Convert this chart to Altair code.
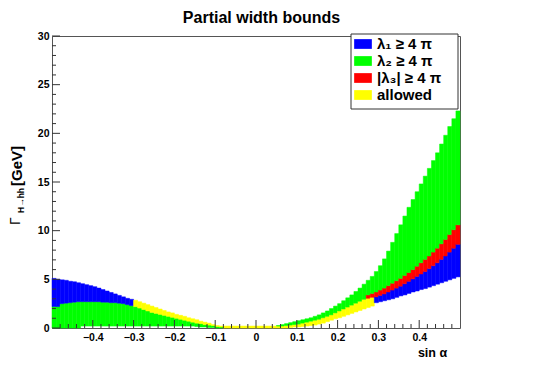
import altair as alt
import pandas as pd

TITLE = "Partial width bounds"
CATS = ["l1", "l2", "l3", "allowed"]
CAT_LABELS = ["λ₁  ≥ 4 π", "λ₂  ≥ 4 π", "|λ₃|  ≥ 4 π", "allowed"]
COLORS = ["#0000ff", "#00ff00", "#ff0000", "#ffff00"]
BIN = 0.01

# left region: bins from -0.50 to -0.08 (42 bins)
LEFT_START = -0.50
LEFT_GREEN_LO = [0, 0, 0, 0, 0, 0, 0,
                 0.2, 0.2, 0.2, 0.2, 0.2, 0.2, 0.2, 0.2, 0.2, 0.2, 0.2, 0.2, 0.2, 0.2,
                 0.2, 0.2, 0.2, 0.2, 0.2, 0.2, 0.2, 0.2, 0.2, 0.2, 0.2, 0.2, 0.2, 0.2,
                 0.15, 0.1, 0.1, 0.05, 0.05, 0, 0]
LEFT_GREEN_HI = [2.2, 2.2, 2.5, 2.55, 2.6, 2.65, 2.7, 2.7, 2.7, 2.7, 2.7, 2.7, 2.65, 2.65,
                 2.6, 2.6, 2.55, 2.5, 2.4, 2.3, 2.2, 2.05, 1.9, 1.75, 1.6, 1.5, 1.4, 1.3,
                 1.2, 1.1, 1.0, 0.9, 0.8, 0.7, 0.6, 0.5, 0.45, 0.35, 0.3, 0.25, 0.15, 0.1]
LEFT_BLUE_HI = [5.1, 5.0, 4.95, 4.9, 4.8, 4.75, 4.65, 4.55, 4.45, 4.35, 4.25, 4.1, 3.95,
                3.8, 3.65, 3.5, 3.35, 3.2, 3.05, 2.95]
LEFT_YELLOW_HI = [2.85, 2.7, 2.55, 2.4, 2.25, 2.1, 1.95, 1.8, 1.65, 1.55, 1.4, 1.3, 1.2,
                  1.05, 0.95, 0.85, 0.7, 0.6, 0.5, 0.35, 0.25, 0.2]

# centre region: bins from -0.08 to 0.05
CENTER_START = -0.08
CENTER_YELLOW_HI = [0.2, 0.2, 0.2, 0.2, 0.2, 0.2, 0.2, 0.2, 0.2, 0.2, 0.2, 0.2, 0.2]

# right region: bins from 0.05 to 0.50 (45 bins)
RIGHT_START = 0.05
RIGHT_YELLOW_LO = [0, 0, 0, 0.05, 0.1, 0.1, 0.15, 0.2, 0.25, 0.3, 0.4, 0.5, 0.65, 0.8,
                   0.95, 1.05, 1.2, 1.35, 1.5, 1.65, 1.8, 1.95, 2.1, 2.25]
RIGHT_YELLOW_HI = [0.2, 0.2, 0.25, 0.3, 0.35, 0.4, 0.5, 0.6, 0.7, 0.8, 0.9, 1.05, 1.2,
                   1.35, 1.55, 1.75, 1.95, 2.15, 2.35, 2.55, 2.75, 2.95, 3.05, 3.15]
RIGHT_BLUE_LO = [2.6, 2.7, 2.8, 2.9, 3.0, 3.15, 3.3, 3.4, 3.55, 3.7, 3.8, 3.95, 4.05,
                 4.2, 4.35, 4.5, 4.65, 4.8, 4.95, 5.1, 5.25]
RIGHT_BLUE_HI = [3.2, 3.35, 3.5, 3.7, 3.9, 4.1, 4.3, 4.55, 4.8, 5.05, 5.3, 5.55, 5.8,
                 6.1, 6.4, 6.7, 7.05, 7.4, 7.8, 8.2, 8.6]
RIGHT_RED_HI = [3.4, 3.55, 3.7, 3.9, 4.1, 4.35, 4.6, 4.85, 5.1, 5.4, 5.7, 6.0, 6.35,
                6.7, 7.05, 7.4, 7.8, 8.2, 8.65, 9.1, 9.6, 10.1, 10.6]
RIGHT_GREEN_HI = [0.25, 0.35, 0.45, 0.55, 0.65, 0.75, 0.85, 0.95, 1.05, 1.2, 1.35, 1.55,
                  1.75, 2.0, 2.25, 2.5, 2.8, 3.1, 3.4, 3.75, 4.1, 4.5, 4.9, 5.3, 5.8,
                  6.4, 7.1, 7.9, 8.8, 9.7, 10.6, 11.5, 12.4, 13.2, 14.0, 14.8, 15.6,
                  16.4, 17.2, 18.0, 18.9, 19.8, 20.7, 21.5, 22.3]

X_TICK_LABELS = [-0.4, -0.3, -0.2, -0.1, 0, 0.1, 0.2, 0.3, 0.4]
Y_TICK_LABELS = [0, 5, 10, 15, 20, 25, 30]

rows = []


def add(x0, lo, hi, cat):
    rows.append({"x0": round(x0, 4), "x1": round(x0 + BIN, 4), "y0": lo, "y1": hi, "cat": cat})


for i in range(len(LEFT_GREEN_HI)):
    x0 = LEFT_START + i * BIN
    add(x0, LEFT_GREEN_LO[i], LEFT_GREEN_HI[i], "l2")
    if i < len(LEFT_BLUE_HI):
        add(x0, LEFT_GREEN_HI[i], LEFT_BLUE_HI[i], "l1")
    else:
        add(x0, LEFT_GREEN_HI[i], LEFT_YELLOW_HI[i - len(LEFT_BLUE_HI)], "allowed")

for j, v in enumerate(CENTER_YELLOW_HI):
    add(CENTER_START + j * BIN, 0, v, "allowed")

n_yel = len(RIGHT_YELLOW_HI)
red_start = len(RIGHT_GREEN_HI) - len(RIGHT_RED_HI)
for k in range(len(RIGHT_GREEN_HI)):
    x0 = RIGHT_START + k * BIN
    if k < n_yel:
        add(x0, RIGHT_YELLOW_LO[k], RIGHT_YELLOW_HI[k], "allowed")
        below = RIGHT_YELLOW_HI[k]
    else:
        add(x0, RIGHT_BLUE_LO[k - n_yel], RIGHT_BLUE_HI[k - n_yel], "l1")
        below = RIGHT_BLUE_HI[k - n_yel]
    if k >= red_start:
        add(x0, below, RIGHT_RED_HI[k - red_start], "l3")
        below = RIGHT_RED_HI[k - red_start]
    add(x0, below, RIGHT_GREEN_HI[k], "l2")

df = pd.DataFrame(rows)

FONT = "Liberation Sans"
xscale = alt.Scale(domain=[-0.5, 0.5], nice=False, zero=False)
yscale = alt.Scale(domain=[0, 30], nice=False, zero=False)

label_expr = " : ".join(
    f"datum.label == '{c}' ? '{l}'" for c, l in zip(CATS, CAT_LABELS)
) + " : datum.label"

rects = alt.Chart(df).mark_rect(strokeWidth=0.5).encode(
    x=alt.X("x0:Q", scale=xscale,
            axis=alt.Axis(values=X_TICK_LABELS, ticks=False, domain=False, grid=False,
                          labelExpr="datum.value == 0 ? '0' : format(datum.value, '.1f')",
                          labelFont=FONT, labelFontWeight="bold", labelFontSize=10.5,
                          labelColor="black", labelPadding=4,
                          title="sin α", titleFont=FONT, titleFontSize=12.5,
                          titleFontWeight="bold", titleColor="black",
                          titleX=380, titleY=24, titleAlign="center",
                          titleBaseline="middle")),
    x2="x1:Q",
    y=alt.Y("y0:Q", scale=yscale,
            axis=alt.Axis(values=Y_TICK_LABELS, ticks=False, domain=False, grid=False,
                          labelFont=FONT, labelFontWeight="bold", labelFontSize=10.5,
                          labelColor="black", labelPadding=3, title=None)),
    y2="y1:Q",
    color=alt.Color("cat:N", scale=alt.Scale(domain=CATS, range=COLORS),
                    legend=alt.Legend(orient="none", legendX=299, legendY=-4, title=None,
                                      direction="vertical",
                                      symbolType="M-1,-0.55L1,-0.55L1,0.55L-1,0.55Z",
                                      symbolSize=313, symbolStrokeWidth=0, symbolOpacity=1,
                                      labelFont=FONT, labelFontSize=15,
                                      labelFontWeight="bold", labelColor="black",
                                      labelOffset=5, rowPadding=0, padding=3,
                                      labelLimit=300, labelExpr=label_expr)),
    stroke=alt.Stroke("cat:N", scale=alt.Scale(domain=CATS, range=COLORS), legend=None),
)

# legend frame (decoration behind the legend entries)
legend_box = alt.Chart(pd.DataFrame({"b": [1]})).mark_rect(
    fill="white", stroke="#333", strokeWidth=1
).encode(x=alt.value(299), x2=alt.value(406), y=alt.value(-2), y2=alt.value(73))

x_major = pd.DataFrame({"v": X_TICK_LABELS})
x_minor = pd.DataFrame({"v": [round(-0.5 + 0.02 * i, 2) for i in range(51)
                              if round((-0.5 + 0.02 * i) * 10, 4) % 1 != 0]})
y_major = pd.DataFrame({"v": Y_TICK_LABELS})
y_minor = pd.DataFrame({"v": [i for i in range(1, 30) if i % 5 != 0]})

TICK = "#333"
xt_major = alt.Chart(x_major).mark_rule(color=TICK).encode(
    x=alt.X("v:Q", scale=xscale), y=alt.value(292), y2=alt.value(284))
xt_minor = alt.Chart(x_minor).mark_rule(color=TICK).encode(
    x=alt.X("v:Q", scale=xscale), y=alt.value(292), y2=alt.value(288))
yt_major = alt.Chart(y_major).mark_rule(color=TICK).encode(
    y=alt.Y("v:Q", scale=yscale), x=alt.value(0), x2=alt.value(8))
yt_minor = alt.Chart(y_minor).mark_rule(color=TICK).encode(
    y=alt.Y("v:Q", scale=yscale), x=alt.value(0), x2=alt.value(4))


def text_layer(t, x, y, **kw):
    return alt.Chart(pd.DataFrame({"t": [t]})).mark_text(font=FONT, color="black", **kw).encode(
        text="t:N", x=alt.value(x), y=alt.value(y))


title = text_layer(TITLE, 209.5, -13, fontSize=16, fontWeight="bold",
                   align="center", baseline="alphabetic")
ytitle_g = text_layer("Γ", -36, 189, fontSize=14, angle=270, align="left", baseline="middle")
ytitle_s = text_layer("H→hh", -31, 177, fontSize=8.5, fontWeight="bold", angle=270,
                      align="left", baseline="middle")
ytitle_u = text_layer("[GeV]", -35, 150, fontSize=15, fontWeight="bold", angle=270,
                      align="left", baseline="middle")

chart = alt.layer(
    rects, xt_major, xt_minor, yt_major, yt_minor, legend_box,
    title, ytitle_g, ytitle_s, ytitle_u
).properties(
    width=408, height=292, autosize="none",
    padding={"left": 44, "top": 28, "right": 72, "bottom": 30},
    background="white",
).configure_view(stroke="#555", strokeWidth=1)

chart.save("out.html", embed_options={"renderer": "svg", "actions": False})
